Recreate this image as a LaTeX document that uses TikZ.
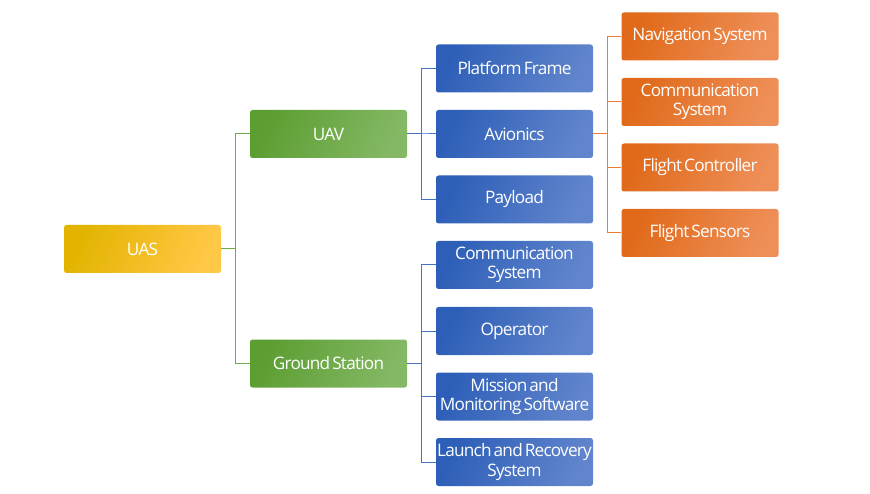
\documentclass[tikz,border=0pt]{standalone}
\usepackage{fontspec}
\setmainfont{Open Sans}[LetterSpace=-4.5, WordSpace={0.55,0,0}]
\usetikzlibrary{positioning}

\definecolor{uasdark}{HTML}{E2B400}
\definecolor{uasmid}{HTML}{FFC600}
\definecolor{uaslight}{HTML}{FFC846}
\definecolor{grndark}{HTML}{5C9E32}
\definecolor{grnmid}{HTML}{6FB03F}
\definecolor{grnlight}{HTML}{84B864}
\definecolor{bludark}{HTML}{2E5FB8}
\definecolor{blumid}{HTML}{3A6CC8}
\definecolor{blulight}{HTML}{6185CC}
\definecolor{orgdark}{HTML}{E06A1A}
\definecolor{orgmid}{HTML}{F07C28}
\definecolor{orglight}{HTML}{EE8F58}
\definecolor{grnline}{HTML}{70AD47}
\definecolor{bluline}{HTML}{4472C4}
\definecolor{orgline}{HTML}{ED7D31}

\begin{document}
\begin{tikzpicture}
    [
        x=1pt, y=1pt,
        block/.style = {
                rectangle,
                minimum height=48pt,
                minimum width=157pt,
                inner sep=0pt,
                rounded corners=2.5pt,
                align=center,
                text=white,
                font=\fontsize{17.2}{19.2}\selectfont
            },
        rootblock/.style = {block, left color=uasdark, middle color=uasmid, right color=uaslight, shading angle=65},
        midblock/.style = {block, left color=grndark, middle color=grnmid, right color=grnlight, shading angle=65},
        partblock/.style = {block, left color=bludark, middle color=blumid, right color=blulight, shading angle=65},
        subblock/.style = {block, left color=orgdark, middle color=orgmid, right color=orglight, shading angle=65},
        link/.style = {line width=1pt},
    ]

    \useasboundingbox (0,0) rectangle (870,-494);

    \node [rootblock] (uas) at (142.5,-249) {UAS};

    \node [midblock] (uav) at (328.5,-134)   {UAV};
    \node [midblock] (gs)  at (328.5,-363.5) {Ground Station};

    \node [partblock] (frame)    at (514.5,-68.5)  {Platform Frame};
    \node [partblock] (avionics) at (514.5,-134)   {Avionics};
    \node [partblock] (payload)  at (514.5,-199.5) {Payload};
    \node [partblock] (gcomm)    at (514.5,-265)   {Communication\\System};
    \node [partblock] (operator) at (514.5,-331)   {Operator};
    \node [partblock] (mission)  at (514.5,-396.5) {Mission and\\Monitoring Software};
    \node [partblock] (launch)   at (514.5,-462)   {Launch and Recovery\\System};

    \node [subblock] (nav)     at (700,-36.5)  {Navigation System};
    \node [subblock] (ucomm)   at (700,-102)   {Communication\\System};
    \node [subblock] (fctrl)   at (700,-167.5) {Flight Controller};
    \node [subblock] (sensors) at (700,-233)   {Flight Sensors};

    % elbow connectors
    \foreach \child in {uav,gs}
        \draw [link, grnline] (uas.east) -- ++(14.5,0) |- (\child.west);
    \foreach \child in {frame,avionics,payload}
        \draw [link, bluline] (uav.east) -- ++(14.5,0) |- (\child.west);
    \foreach \child in {gcomm,operator,mission,launch}
        \draw [link, bluline] (gs.east) -- ++(14.5,0) |- (\child.west);
    \foreach \child in {nav,ucomm,fctrl,sensors}
        \draw [link, orgline] (avionics.east) -- ++(14.5,0) |- (\child.west);

\end{tikzpicture}
\end{document}
